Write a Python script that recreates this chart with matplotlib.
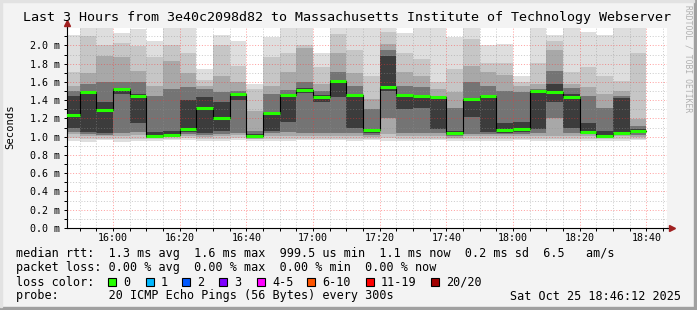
import numpy as np
import pandas as pd
import matplotlib
matplotlib.use('Agg')
import matplotlib.pyplot as plt
import matplotlib.dates as mdates
from matplotlib.patches import Rectangle
from matplotlib.ticker import MultipleLocator, FuncFormatter

#Datos (ms)
median = [1.24, 1.49, 1.29, 1.52, 1.45, 1.01, 1.02, 1.09, 1.31, 1.21,
          1.47, 1.01, 1.26, 1.46, 1.51, 1.44, 1.61, 1.46, 1.07, 1.55,
          1.46, 1.45, 1.44, 1.04, 1.41, 1.45, 1.07, 1.08, 1.50, 1.49,
          1.44, 1.05, 1.01, 1.04, 1.06]

#Capa exterior del humo (min / max)
l1_lo = [0.95, 0.94, 0.96, 0.94, 0.95, 0.95, 0.96, 0.96, 0.95, 0.95,
         0.96, 0.95, 0.95, 0.95, 0.96, 0.96, 0.96, 0.95, 0.96, 0.95,
         0.95, 0.95, 0.96, 0.95, 0.95, 0.95, 0.95, 0.96, 0.95, 0.95,
         0.95, 0.95, 0.95, 0.95, 0.96]
l1_hi = [2.12, 2.30, 2.30, 2.14, 2.18, 2.05, 2.20, 2.22, 1.74, 2.12,
         2.05, 1.58, 2.09, 2.30, 2.30, 1.92, 2.30, 2.30, 2.20, 2.30,
         2.14, 2.20, 2.20, 2.09, 2.20, 2.01, 2.02, 1.67, 2.25, 2.12,
         2.22, 2.15, 2.11, 2.22, 2.22]

#Capa 2
l2_lo = [0.99, 0.97, 0.98, 0.98, 0.98, 0.97, 0.98, 0.99, 0.98, 0.98,
         0.99, 0.97, 0.98, 0.98, 0.98, 0.98, 0.98, 0.98, 0.98, 0.99,
         0.98, 0.98, 0.98, 0.97, 0.98, 0.98, 0.98, 0.98, 0.98, 0.98,
         0.98, 0.98, 0.97, 0.98, 0.98]
l2_hi = [1.71, 2.10, 2.00, 2.03, 1.99, 1.87, 2.00, 1.92, 1.62, 2.00,
         1.78, 1.52, 1.87, 1.92, 2.01, 1.76, 2.13, 1.95, 1.67, 2.15,
         1.92, 1.85, 1.60, 1.74, 2.07, 1.81, 1.81, 1.60, 1.81, 2.05,
         1.71, 1.76, 1.67, 1.61, 1.92]

#Capa 3
l3_lo = [1.03, 1.01, 1.01, 1.01, 1.02, 0.99, 1.00, 1.01, 1.00, 1.01,
         1.02, 0.98, 1.01, 1.01, 1.01, 1.01, 1.01, 1.01, 1.00, 1.03,
         1.01, 1.01, 1.01, 0.99, 1.01, 1.01, 1.01, 1.01, 1.01, 1.01,
         1.01, 1.01, 0.99, 1.01, 1.00]
l3_hi = [1.56, 1.70, 1.88, 1.87, 1.72, 1.56, 1.83, 1.70, 1.56, 1.67,
         1.60, 1.28, 1.56, 1.71, 1.97, 1.58, 1.92, 1.70, 1.41, 2.02,
         1.71, 1.67, 1.52, 1.49, 1.78, 1.71, 1.68, 1.56, 1.58, 1.95,
         1.58, 1.54, 1.47, 1.50, 1.19]

#Capa 4
l4_lo = [1.05, 1.03, 1.02, 1.04, 1.05, 1.00, 1.02, 1.03, 1.02, 1.03,
         1.04, 0.99, 1.04, 1.05, 1.04, 1.04, 1.04, 1.04, 1.02, 1.20,
         1.04, 1.04, 1.04, 1.01, 1.03, 1.03, 1.03, 1.03, 1.04, 1.20,
         1.04, 1.03, 1.00, 1.03, 1.02]
l4_hi = [1.50, 1.58, 1.60, 1.60, 1.60, 1.45, 1.52, 1.54, 1.52, 1.49,
         1.50, 1.06, 1.47, 1.51, 1.60, 1.50, 1.71, 1.56, 1.30, 1.95,
         1.56, 1.54, 1.45, 1.31, 1.60, 1.56, 1.50, 1.49, 1.52, 1.72,
         1.53, 1.45, 1.31, 1.45, 1.12]

#Nucleo (capa mas oscura)
l5_lo = [1.10, 1.05, 1.04, 1.47, 1.15, 0.99, 1.00, 1.05, 1.04, 1.06,
         1.40, 0.99, 1.06, 1.16, 1.48, 1.38, 1.44, 1.10, 1.04, 1.50,
         1.30, 1.32, 1.08, 1.02, 1.22, 1.05, 1.04, 1.05, 1.08, 1.38,
         1.10, 1.04, 0.99, 1.04, 1.04]
l5_hi = [1.45, 1.49, 1.38, 1.53, 1.47, 1.05, 1.06, 1.40, 1.44, 1.38,
         1.48, 1.03, 1.27, 1.46, 1.53, 1.46, 1.62, 1.47, 1.09, 1.88,
         1.47, 1.46, 1.44, 1.06, 1.41, 1.45, 1.15, 1.16, 1.50, 1.58,
         1.47, 1.15, 1.06, 1.42, 1.08]

loss_labels = ['0', '1', '2', '3', '4-5', '6-10', '11-19', '20/20']
loss_colors = ['#26ff00', '#00b8ff', '#0059ff', '#7e00ff', '#ff00ff',
               '#ff5500', '#ff0000', '#a10000']

titulo = 'Last 3 Hours from 3e40c2098d82 to Massachusetts Institute of Technology Webserver'
linea1 = 'median rtt:  1.3 ms avg  1.6 ms max  999.5 us min  1.1 ms now  0.2 ms sd  6.5   am/s'
linea2 = 'packet loss: 0.00 % avg  0.00 % max  0.00 % min  0.00 % now'
linea4 = 'probe:       20 ICMP Echo Pings (56 Bytes) every 300s'
fecha = 'Sat Oct 25 18:46:12 2025'

#Eje de tiempo
bar_start = pd.date_range('2025-10-25 15:45', '2025-10-25 18:35', freq='5min')
t_start = pd.Timestamp('2025-10-25 15:46:12')
t_end = pd.Timestamp('2025-10-25 18:46:12')

plt.rcParams['font.family'] = 'DejaVu Sans Mono'

W, H = 697, 310
fig = plt.figure(figsize=(W/100, H/100), dpi=100)
fig.patch.set_facecolor('#f3f3f3')

# bordes 3D de rrdtool
fig.patches.append(Rectangle((0, 0), 1, 3/H, transform=fig.transFigure, color='#a0a0a0', zorder=0))
fig.patches.append(Rectangle((1-3/W, 0), 3/W, 1, transform=fig.transFigure, color='#a0a0a0', zorder=0))
fig.patches.append(Rectangle((0, 3/H), 2/W, 1, transform=fig.transFigure, color='#e2e2e2', zorder=0))
fig.patches.append(Rectangle((0, 1-2/H), 1-3/W, 2/H, transform=fig.transFigure, color='#e2e2e2', zorder=0))

ax = fig.add_axes([67/W, (H-228)/H, 600/W, 200.3/H])
ax.set_facecolor('white')

x0 = mdates.date2num(bar_start.to_pydatetime())
w = 5/1440

# Humo
capas = [(l1_lo, l1_hi, '#dedede'),
         (l2_lo, l2_hi, '#c6c6c6'),
         (l3_lo, l3_hi, '#a8a8a8'),
         (l4_lo, l4_hi, '#747474'),
         (l5_lo, l5_hi, '#3c3c3c')]
for lo, hi, col in capas:
    lo = np.array(lo)
    hi = np.array(hi)
    ax.bar(x0, hi-lo, bottom=lo, width=w, align='edge', color=col,
           linewidth=0, antialiased=False, zorder=1)

# Mediana
xs = np.append(x0, x0[-1]+w)
ys = np.append(median, median[-1])
ax.step(xs, ys, where='post', color='black', lw=0.8, zorder=3)
ax.hlines(median, x0, x0+w, color=loss_colors[0], lw=2.2, zorder=4)

ax.set_xlim(mdates.date2num(t_start.to_pydatetime()), mdates.date2num(t_end.to_pydatetime()))
ax.set_ylim(0, 2.195)

ax.xaxis.set_major_locator(mdates.MinuteLocator(byminute=[0, 20, 40]))
ax.xaxis.set_minor_locator(mdates.MinuteLocator(byminute=range(0, 60, 5)))
ax.xaxis.set_major_formatter(mdates.DateFormatter('%H:%M'))
ax.yaxis.set_major_locator(MultipleLocator(0.2))
ax.yaxis.set_minor_locator(MultipleLocator(0.1))
ax.yaxis.set_major_formatter(FuncFormatter(lambda v, p: '%.1f m' % v))

ax.set_axisbelow(False)
ax.grid(which='minor', color='#909090', alpha=0.45, lw=0.72, linestyle=(0, (1, 1.8)))
ax.grid(which='major', color='#ff3030', alpha=0.45, lw=0.72, linestyle=(0, (1, 1.8)))

ax.tick_params(which='both', direction='out', length=2, width=0.72, colors='black', labelsize=7.2)
ax.tick_params(axis='x', pad=1.5)
ax.tick_params(axis='y', pad=3)
for s in ['top', 'right']:
    ax.spines[s].set_visible(False)
for s in ['left', 'bottom']:
    ax.spines[s].set_color('black')
    ax.spines[s].set_linewidth(0.8)

# flechas de los ejes
ax.plot([1, 1.009], [0, 0], color='black', lw=0.8, transform=ax.transAxes, clip_on=False)
ax.plot([0, 0], [1, 1.02], color='black', lw=0.8, transform=ax.transAxes, clip_on=False)
ax.plot([1.009], [0], marker='>', ms=4, color='#a02020', transform=ax.transAxes, clip_on=False)
ax.plot([0], [1.025], marker='^', ms=4, color='#a02020', transform=ax.transAxes, clip_on=False)

# Textos
fig.text(347/W, 1-18/H, titulo, ha='center', va='center', fontsize=9.6)
fig.text(10/W, 1-127/H, 'Seconds', rotation=90, ha='center', va='center', fontsize=7.6)
fig.text(688/W, 1-5/H, 'RRDTOOL / TOBI OETIKER', rotation=-90, ha='center', va='top',
         fontsize=5.8, color='#b0b0b0')

fig.text(16/W, 1-254/H, linea1, ha='left', va='center', fontsize=8.5)
fig.text(16/W, 1-268/H, linea2, ha='left', va='center', fontsize=8.5)
fig.text(16/W, 1-282/H, 'loss color:', ha='left', va='center', fontsize=8.5)
fig.text(16/W, 1-296/H, linea4, ha='left', va='center', fontsize=8.5)
fig.text(681/W, 1-296/H, fecha, ha='right', va='center', fontsize=8.5)

sq_x = [108, 146, 182, 219, 257, 307, 366, 431]
for px, lab, col in zip(sq_x, loss_labels, loss_colors):
    fig.patches.append(Rectangle((px/W, 1-286/H), 8/W, 8/H, transform=fig.transFigure,
                                 facecolor=col, edgecolor='black', lw=0.8))
    fig.text((px+15)/W, 1-282/H, lab, ha='left', va='center', fontsize=8.5)

plt.savefig('out.png', dpi=100, facecolor=fig.get_facecolor())
